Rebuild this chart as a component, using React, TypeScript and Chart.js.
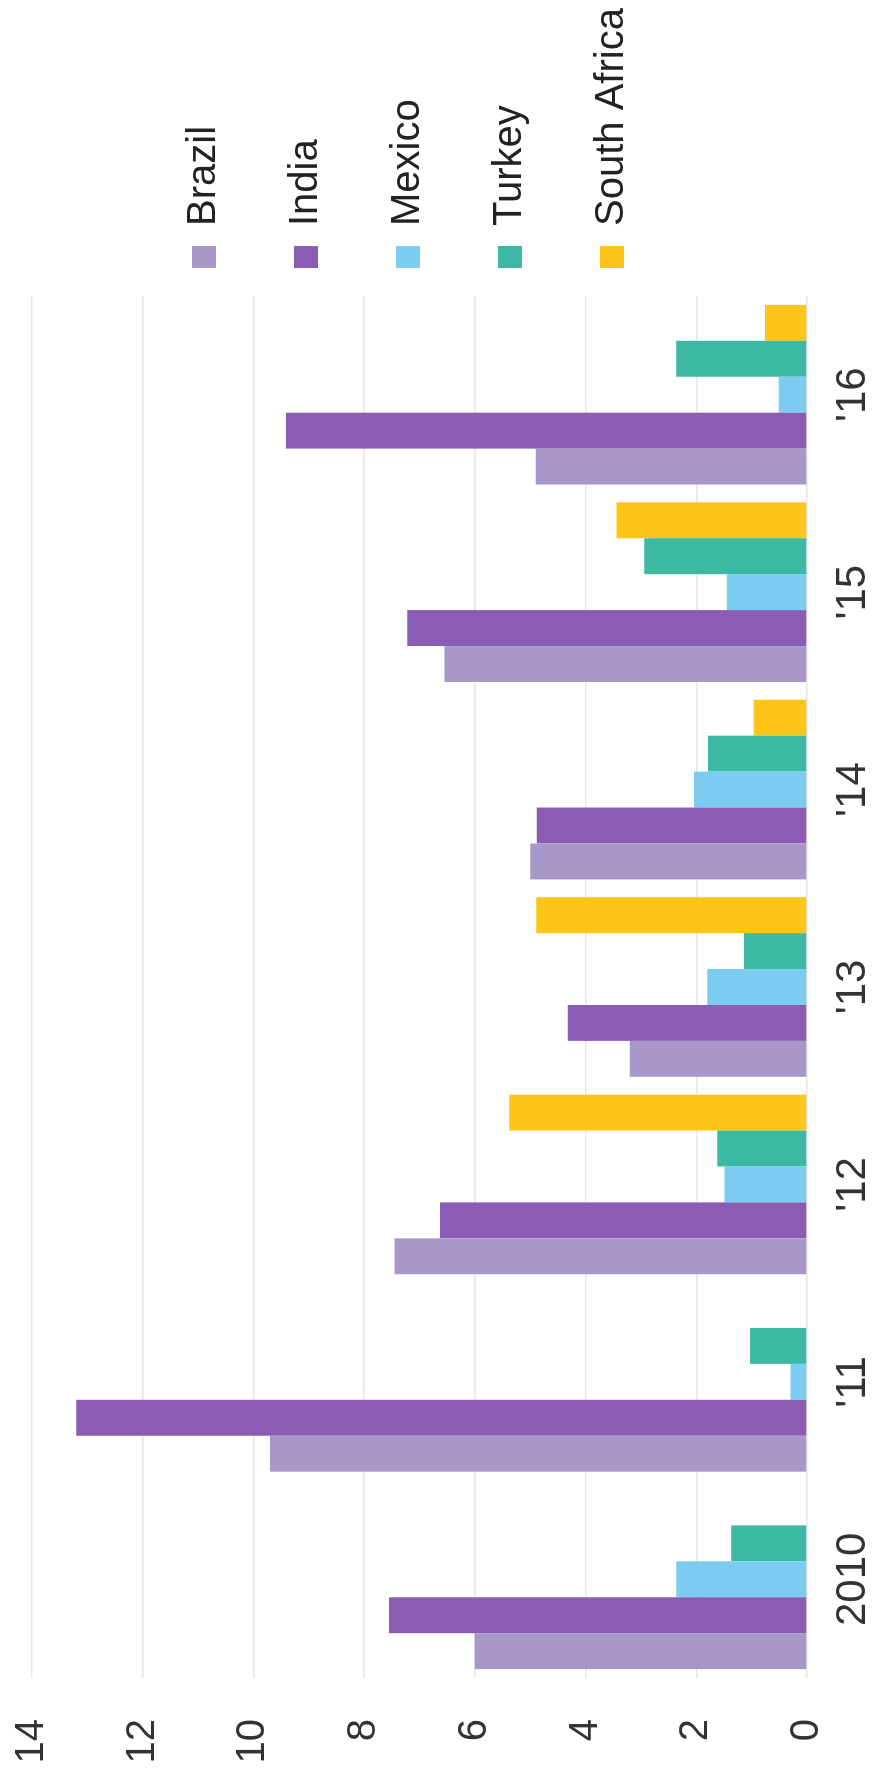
import React, { useEffect, useRef } from 'react';
import { Chart, registerables } from 'chart.js';

Chart.register(...registerables);

// ---- data ----
const categories = ['2010', "'11", "'12", "'13", "'14", "'15", "'16"];
const seriesNames = ['Brazil', 'India', 'Mexico', 'Turkey', 'South Africa'];
const brazil = [6.0, 9.7, 7.45, 3.2, 5.0, 6.55, 4.9];
const india = [7.55, 13.2, 6.63, 4.32, 4.88, 7.22, 9.41];
const mexico = [2.36, 0.3, 1.49, 1.8, 2.04, 1.45, 0.51];
const turkey = [1.37, 1.03, 1.62, 1.14, 1.79, 2.94, 2.36];
const southAfrica = [null, null, 5.38, 4.89, 0.96, 3.44, 0.76];
const valueMin = 0;
const valueMax = 14;
const valueStep = 2;

// ---- styles ----
const seriesColors = ['#a898c9', '#8b5cb4', '#7ccbf0', '#3cb9a2', '#fdc51a'];
const FONT = '"Liberation Sans", Arial, Helvetica, sans-serif';
const W = 1780; // unrotated width
const H = 879; // unrotated height
const LEGEND_DX = -34;
const LEGEND_DY = 90;

// moves the legend's drawing origin (keeps its right/bottom clip edges)
const legendShift = {
  id: 'legendShift',
  afterLayout(chart: any) {
    const l = chart.legend;
    if (l) {
      l.left += LEGEND_DX;
      l.top += LEGEND_DY;
    }
  },
};

export default function App() {
  const ref = useRef<HTMLCanvasElement | null>(null);

  useEffect(() => {
    if (!ref.current) return;
    const values = [brazil, india, mexico, turkey, southAfrica];
    const chart = new Chart(ref.current, {
      type: 'bar',
      data: {
        labels: categories,
        datasets: seriesNames.map((name, i) => ({
          label: name,
          data: values[i] as any,
          backgroundColor: seriesColors[i],
          borderWidth: 0,
          categoryPercentage: 0.91,
          barPercentage: 1.0,
        })),
      },
      options: {
        responsive: false,
        animation: false,
        devicePixelRatio: 1,
        layout: { padding: { top: 32, left: 0, right: 0, bottom: 0 } },
        scales: {
          x: {
            type: 'category',
            offset: true,
            grid: { display: false },
            border: { display: false },
            ticks: {
              font: { family: FONT, size: 42 },
              color: '#333333',
              padding: 13,
              maxRotation: 0,
              autoSkip: false,
            },
            afterFit: (s: any) => {
              s.height = H - 807;
            },
          },
          y: {
            min: valueMin,
            max: valueMax,
            ticks: {
              stepSize: valueStep,
              font: { family: FONT, size: 40 },
              color: '#333333',
              padding: 0,
            },
            grid: {
              color: '#e6e6e6',
              lineWidth: 1.5,
              drawTicks: true,
              tickLength: 41,
              tickColor: 'rgba(0,0,0,0)',
            },
            border: { display: false },
            afterFit: (s: any) => {
              s.width = 102;
            },
          },
        },
        plugins: {
          legend: {
            position: 'right',
            align: 'start',
            maxWidth: 296,
            labels: {
              boxWidth: 22,
              boxHeight: 24,
              padding: 62,
              font: { family: FONT, size: 40 },
              color: '#222222',
            },
          },
          tooltip: { enabled: false },
        },
      },
      plugins: [legendShift],
    } as any);
    return () => chart.destroy();
  }, []);

  return (
    <div
      style={{
        position: 'absolute',
        left: 0,
        top: 0,
        width: H,
        height: W,
        overflow: 'hidden',
        background: '#ffffff',
      }}
    >
      <div
        style={{
          position: 'absolute',
          left: 0,
          top: 0,
          width: W,
          height: H,
          transformOrigin: '0 0',
          transform: `translate(0px, ${W}px) rotate(-90deg)`,
        }}
      >
        <canvas ref={ref} width={W} height={H} style={{ width: W, height: H, display: 'block' }} />
      </div>
    </div>
  );
}
